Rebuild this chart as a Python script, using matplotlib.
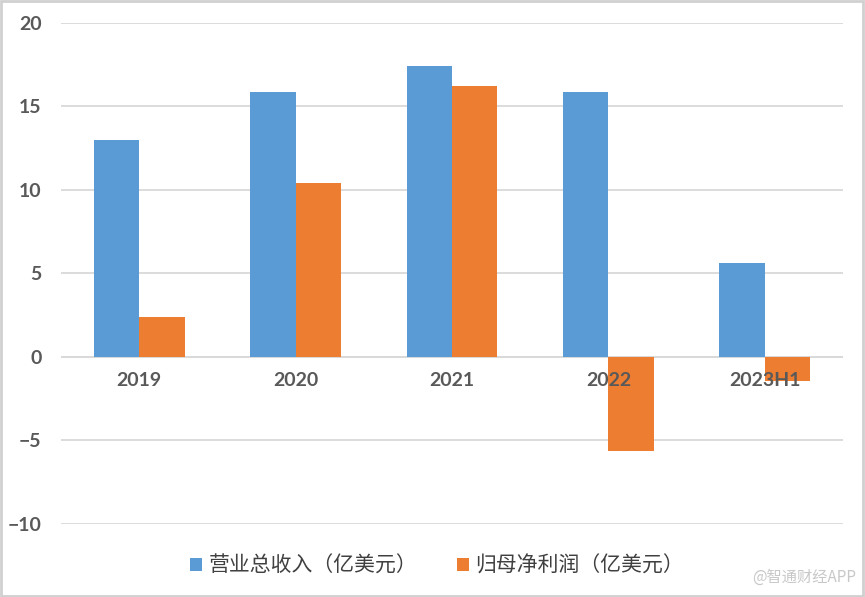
import matplotlib.pyplot as plt
import numpy as np
from matplotlib.patches import Rectangle

plt.rcParams['font.family'] = ['Noto Sans CJK SC', 'DejaVu Sans']

years = ["2019", "2020", "2021", "2022", "2023H1"]
revenue = [13.0, 15.85, 17.4, 15.85, 5.6]
net_profit = [2.4, 10.4, 16.2, -5.6, -1.45]
series_names = ["营业总收入（亿美元）", "归母净利润（亿美元）"]

blue = "#5B9BD5"
orange = "#ED7D31"

fig = plt.figure(figsize=(8.65, 5.97), dpi=100)
ax = fig.add_axes([0.0705, 0.1223, 0.904, 0.8392])

x = np.arange(len(years))
w = 0.29
ax.bar(x - w / 2, revenue, w, color=blue, label=series_names[0], zorder=2)
ax.bar(x + w / 2, net_profit, w, color=orange, label=series_names[1], zorder=2)

ax.set_xlim(-0.5, len(years) - 0.5)
ax.set_ylim(-10, 20)
ax.set_yticks(np.arange(-10, 21, 5))
ax.grid(axis="y", color="#D9D9D9", linewidth=1.3, zorder=0)
ax.axhline(0, color="#D9D9D9", linewidth=1.3, zorder=1)
for s in ax.spines.values():
    s.set_visible(False)
ax.set_xticks([])
ax.tick_params(axis="y", length=0, pad=14, labelsize=14, labelcolor="#595959")
for lab in ax.get_yticklabels():
    lab.set_fontweight("bold")
    lab.set_fontfamily(["Lato", "DejaVu Sans"])

# category labels sit just under the zero line, over the bars
for i, yr in enumerate(years):
    ax.annotate(yr, (i, 0), xytext=(0, -11), textcoords="offset points",
                ha="center", va="top", fontsize=14, fontweight="bold",
                color="#595959", family=["Lato", "DejaVu Sans"], zorder=5)

fig.legend(loc="center", bbox_to_anchor=(0.505, 0.052), ncol=2, frameon=False,
           fontsize=15, handlelength=0.6, handleheight=0.6, handletextpad=0.3,
           columnspacing=1.9, labelcolor="#404040")

fig.text(0.99, 0.033, "@智通财经APP", ha="right", va="center", fontsize=11,
         color="#C8C8C8")

fig.patches.append(Rectangle((0.001, 0.002), 0.997, 0.996, transform=fig.transFigure,
                             fill=False, edgecolor="#D0D0D0", linewidth=2))

fig.savefig("out.png", dpi=100)
